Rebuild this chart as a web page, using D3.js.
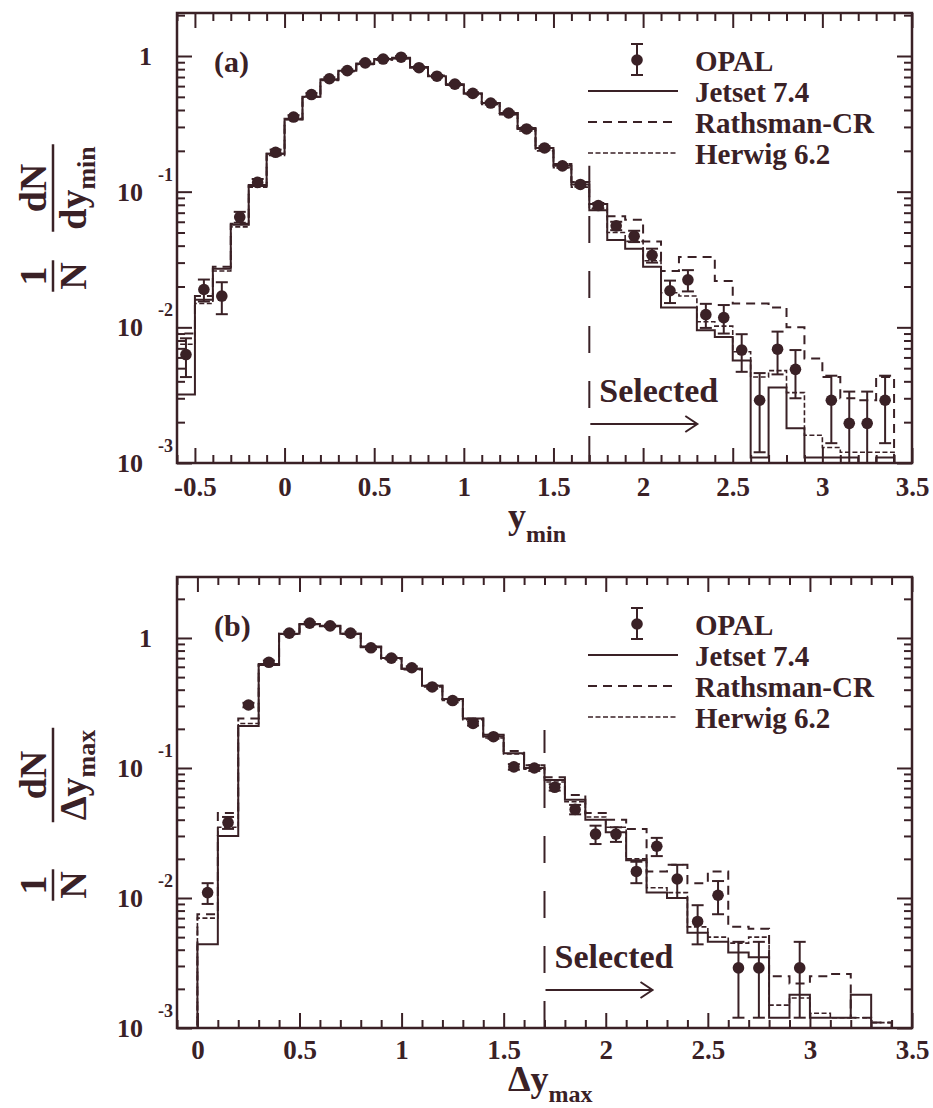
<!DOCTYPE html>
<html>
<head>
<meta charset="utf-8">
<script src="https://cdn.jsdelivr.net/npm/d3@7"></script>
<style>
  body { margin: 0; background: #fff; }
  text { font-family: "Liberation Serif", "Times New Roman", serif; font-weight: bold; fill: #3a2126; }
</style>
</head>
<body>
<svg id="chart" width="933" height="1108"></svg>
<script>
const INK = '#3a2126';
const LEFT = 177, RIGHT = 912;
const BIN = 0.1;

// ---- panel (a): y_min, bins of 0.1 from -0.6 ----
const binStartA = -0.6;
const opalA = [0.0063, 0.019, 0.017, 0.065, 0.117, 0.195, 0.355, 0.52, 0.68, 0.78,
  0.89, 0.95, 0.98, 0.82, 0.71, 0.62, 0.53, 0.45, 0.38, 0.29,
  0.21, 0.155, 0.113, 0.079, 0.056, 0.047, 0.034, 0.0186, 0.0224, 0.0124,
  0.0118, 0.0068, 0.0029, 0.0069, 0.0049, null, 0.0029, 0.00196, 0.00196, 0.0029];
const errA = [0.002, 0.0035, 0.0045, 0.006, 0.007, 0.009, 0.011, 0.013, 0.015, 0.016,
  0.017, 0.018, 0.018, 0.016, 0.015, 0.013, 0.012, 0.011, 0.009, 0.008,
  0.006, 0.005, 0.004, 0.0035, 0.004, 0.0045, 0.004, 0.0035, 0.004, 0.0025,
  0.0028, 0.0021, 0.0017, 0.0024, 0.0019, null, 0.0015, 0.0014, 0.0014, 0.0015];
const jetsetA = [0.0032, 0.016, 0.027, 0.057, 0.11, 0.19, 0.34, 0.50, 0.67, 0.78,
  0.88, 0.95, 0.97, 0.83, 0.71, 0.62, 0.53, 0.45, 0.38, 0.29,
  0.21, 0.155, 0.113, 0.073, 0.044, 0.038, 0.028, 0.014, 0.014, 0.0095,
  0.0085, 0.0057, 0.0011, 0.0036, 0.0018, 0.0011, 0.0011, 0.0011, 0, 0.0011];
const rathsmanA = [0.009, 0.017, 0.028, 0.058, 0.112, 0.19, 0.345, 0.51, 0.67, 0.78,
  0.87, 0.94, 0.96, 0.82, 0.71, 0.62, 0.53, 0.45, 0.38, 0.295,
  0.215, 0.16, 0.118, 0.081, 0.066, 0.062, 0.043, 0.026, 0.033, 0.033,
  0.022, 0.015, 0.015, 0.014, 0.01, 0.0059, 0.0043, 0.003, 0.0029, 0.0043];
const herwigA = [0.0075, 0.015, 0.026, 0.055, 0.108, 0.185, 0.34, 0.50, 0.66, 0.77,
  0.87, 0.94, 0.96, 0.83, 0.72, 0.61, 0.52, 0.44, 0.37, 0.28,
  0.2, 0.15, 0.108, 0.075, 0.05, 0.043, 0.031, 0.018, 0.017, 0.011,
  0.0102, 0.0066, 0.0043, 0.0048, 0.0033, 0.0016, 0.0013, 0.0012, 0.0012, 0.0012];
const xTicksA = [-0.5, 0, 0.5, 1, 1.5, 2, 2.5, 3, 3.5];

// ---- panel (b): delta y_max, bins of 0.1 from 0 ----
const binStartB = 0;
const opalB = [0.011, 0.038, 0.305, 0.65, 1.09, 1.30, 1.24, 1.09, 0.84, 0.70,
  0.59, 0.42, 0.33, 0.22, 0.174, 0.102, 0.10, 0.071, 0.048, 0.031,
  0.031, 0.016, 0.025, 0.014, 0.0066, 0.0105, 0.0029, 0.0029, null, 0.0029,
  null, null, null, null];
const errB = [0.002, 0.004, 0.012, 0.02, 0.025, 0.028, 0.027, 0.025, 0.02, 0.017,
  0.015, 0.012, 0.01, 0.008, 0.006, 0.005, 0.005, 0.004, 0.004, 0.005,
  0.004, 0.003, 0.004, 0.004, 0.0022, 0.003, 0.0017, 0.0017, null, 0.0017,
  null, null, null, null];
const jetsetB = [0.0044, 0.03, 0.21, 0.62, 1.08, 1.28, 1.24, 1.08, 0.85, 0.70,
  0.58, 0.43, 0.34, 0.24, 0.175, 0.13, 0.1, 0.081, 0.057, 0.040,
  0.032, 0.0195, 0.011, 0.010, 0.0054, 0.0046, 0.0038, 0.0035, 0.0012, 0.0018,
  0.0012, 0.0012, 0.0018, 0];
const rathsmanB = [0.0075, 0.045, 0.24, 0.63, 1.08, 1.27, 1.23, 1.08, 0.86, 0.70,
  0.58, 0.43, 0.34, 0.24, 0.18, 0.135, 0.105, 0.085, 0.062, 0.045,
  0.04, 0.034, 0.016, 0.018, 0.013, 0.016, 0.006, 0.0058, 0.0025, 0.0022,
  0.0025, 0.0026, 0.0012, 0.0011];
const herwigB = [0.007, 0.035, 0.22, 0.62, 1.07, 1.27, 1.24, 1.07, 0.85, 0.69,
  0.57, 0.42, 0.33, 0.235, 0.17, 0.128, 0.098, 0.078, 0.055, 0.042,
  0.035, 0.02, 0.012, 0.011, 0.006, 0.005, 0.0045, 0.005, 0.0015, 0.0017,
  0.0013, 0.0012, 0.0012, 0.0011];
const xTicksB = [0, 0.5, 1, 1.5, 2, 2.5, 3, 3.5];

const yMajors = [1e-3, 1e-2, 1e-1, 1];
const yLabels = [['10', '-3'], ['10', '-2'], ['10', '-1'], ['1', '']];
const legendNames = ['OPAL', 'Jetset 7.4', 'Rathsman-CR', 'Herwig 6.2'];

const MODELS = [
  {key: 'jetset', dash: null, width: 2},
  {key: 'rathsman', dash: '9,6', width: 2},
  {key: 'herwig', dash: '5,2.5', width: 1.6}
];

const svg = d3.select('#chart');

function drawPanel(p) {
  const x = d3.scaleLinear().domain(p.xDomain).range([LEFT, RIGHT]);
  const y = d3.scaleLog().domain(p.yDomain).range([p.bottom, p.top]);
  const floor = p.yDomain[0] * 0.8;

  svg.append('clipPath').attr('id', 'clip-' + p.id)
    .append('rect')
    .attr('x', LEFT).attr('y', p.top)
    .attr('width', RIGHT - LEFT).attr('height', p.bottom - p.top);

  const plot = svg.append('g').attr('clip-path', `url(#clip-${p.id})`);
  const n = p.opal.length;
  const edges = d3.range(n + 1).map(i => +(p.binStart + i * BIN).toFixed(2));

  const stepLine = d3.line()
    .x(d => x(d[0]))
    .y(d => y(Math.max(d[1], floor)));

  function stepPoints(vals) {
    const pts = [[edges[0], floor]];
    vals.forEach((v, i) => {
      pts.push([edges[i], v || floor], [edges[i + 1], v || floor]);
    });
    pts.push([edges[vals.length], floor]);
    return pts;
  }

  MODELS.forEach(m => {
    plot.append('path')
      .attr('d', stepLine(stepPoints(p[m.key])))
      .attr('fill', 'none')
      .attr('stroke', INK)
      .attr('stroke-width', m.width)
      .attr('stroke-dasharray', m.dash);
  });

  // OPAL points with error bars
  const pts = p.opal
    .map((v, i) => ({v, e: p.err[i], c: (edges[i] + edges[i + 1]) / 2}))
    .filter(d => d.v != null);
  const capW = 6;
  const bars = plot.append('g').attr('stroke', INK).attr('stroke-width', 2);
  pts.forEach(d => {
    const hi = y(d.v + d.e);
    const lo = y(Math.max(d.v - d.e, floor));
    const cx = x(d.c);
    bars.append('line').attr('x1', cx).attr('x2', cx).attr('y1', hi).attr('y2', lo);
    bars.append('line').attr('x1', cx - capW).attr('x2', cx + capW).attr('y1', hi).attr('y2', hi);
    if (d.v - d.e > p.yDomain[0]) {
      bars.append('line').attr('x1', cx - capW).attr('x2', cx + capW).attr('y1', lo).attr('y2', lo);
    }
  });
  plot.append('g').selectAll('circle')
    .data(pts)
    .join('circle')
    .attr('cx', d => x(d.c))
    .attr('cy', d => y(d.v))
    .attr('r', 5.8)
    .attr('fill', INK);

  // selection cut
  const cutX = x(1.7);
  svg.append('line')
    .attr('x1', cutX).attr('x2', cutX)
    .attr('y1', p.bottom).attr('y2', y(p.cutTop))
    .attr('stroke', INK).attr('stroke-width', 2)
    .attr('stroke-dasharray', '27,28');
  svg.append('text')
    .attr('x', cutX + 10).attr('y', p.selY)
    .attr('font-size', 34)
    .text('Selected');
  const ay = p.selY + 22;
  svg.append('path')
    .attr('d', `M${cutX + 1},${ay}H${cutX + 108}M${cutX + 96},${ay - 8}L${cutX + 108},${ay}L${cutX + 96},${ay + 8}`)
    .attr('fill', 'none').attr('stroke', INK).attr('stroke-width', 2);

  // axes
  const xMinor = d3.range(Math.round(p.xDomain[0] * 10), Math.round(p.xDomain[1] * 10) + 1)
    .map(k => k / 10).filter(v => !p.xTicks.includes(v));
  const yMinor = yMajors.flatMap(d => d3.range(2, 10).map(k => k * d))
    .filter(v => v < p.yDomain[1]);

  function styleAxis(g) {
    g.select('.domain').remove();
    g.style('color', INK);
    g.selectAll('line').attr('stroke-width', 2);
  }

  svg.append('g').attr('transform', `translate(0,${p.bottom})`)
    .call(d3.axisBottom(x).tickValues(p.xTicks).tickSize(-15).tickPadding(p.labelPad)
      .tickFormat(d => String(d)))
    .call(styleAxis)
    .call(g => g.selectAll('text')
      .attr('font-size', 27)
      .attr('font-family', '"Liberation Serif", serif')
      .attr('font-weight', 'bold'));
  svg.append('g').attr('transform', `translate(0,${p.bottom})`)
    .call(d3.axisBottom(x).tickValues(xMinor).tickSize(-8).tickFormat(''))
    .call(styleAxis);
  svg.append('g').attr('transform', `translate(0,${p.top})`)
    .call(d3.axisTop(x).tickValues(p.xTicks).tickSize(-15).tickFormat(''))
    .call(styleAxis);
  svg.append('g').attr('transform', `translate(0,${p.top})`)
    .call(d3.axisTop(x).tickValues(xMinor).tickSize(-8).tickFormat(''))
    .call(styleAxis);
  [[LEFT, d3.axisLeft], [RIGHT, d3.axisRight]].forEach(([pos, axis]) => {
    svg.append('g').attr('transform', `translate(${pos},0)`)
      .call(axis(y).tickValues(yMajors).tickSize(-15).tickFormat(''))
      .call(styleAxis);
    svg.append('g').attr('transform', `translate(${pos},0)`)
      .call(axis(y).tickValues(yMinor).tickSize(-8).tickFormat(''))
      .call(styleAxis);
  });

  // y tick labels as 10^n
  yMajors.forEach((v, i) => {
    const ty = y(v);
    const [base, exp] = yLabels[i];
    if (exp) {
      svg.append('text').attr('x', 143).attr('y', ty + 9)
        .attr('text-anchor', 'end').attr('font-size', 26).text(base);
      svg.append('text').attr('x', 173).attr('y', ty - 11)
        .attr('text-anchor', 'end').attr('font-size', 18).text(exp);
    } else {
      svg.append('text').attr('x', 152).attr('y', ty + 9)
        .attr('text-anchor', 'end').attr('font-size', 26).text(base);
    }
  });

  // frame
  svg.append('rect')
    .attr('x', LEFT).attr('y', p.top)
    .attr('width', RIGHT - LEFT).attr('height', p.bottom - p.top)
    .attr('fill', 'none').attr('stroke', INK).attr('stroke-width', 2.5);

  // panel tag
  svg.append('text').attr('x', 214).attr('y', p.top + 59)
    .attr('font-size', 30).text(p.tag);

  // legend
  const lg = svg.append('g').attr('transform', `translate(0,${p.top})`);
  lg.append('line').attr('x1', 637).attr('x2', 637).attr('y1', 31).attr('y2', 62)
    .attr('stroke', INK).attr('stroke-width', 2);
  [31, 62].forEach(cy => lg.append('line')
    .attr('x1', 631).attr('x2', 643).attr('y1', cy).attr('y2', cy)
    .attr('stroke', INK).attr('stroke-width', 2));
  lg.append('circle').attr('cx', 637).attr('cy', 47).attr('r', 5.8).attr('fill', INK);
  MODELS.forEach((m, i) => {
    lg.append('line')
      .attr('x1', 588).attr('x2', 678)
      .attr('y1', 78 + i * 31).attr('y2', 78 + i * 31)
      .attr('stroke', INK).attr('stroke-width', m.width)
      .attr('stroke-dasharray', m.dash);
  });
  legendNames.forEach((name, i) => {
    lg.append('text').attr('x', 695).attr('y', 58 + i * 31)
      .attr('font-size', 29).text(name);
  });

  // x axis title
  const xt = svg.append('text').attr('x', p.xTitleX).attr('y', p.xTitleY).attr('font-size', 36);
  xt.append('tspan').text(p.xSym);
  xt.append('tspan').attr('dy', p.subDy).attr('font-size', 24).text(p.sub);

  // y axis title: (1/N)(dN/d...)
  const yt = svg.append('g').attr('transform', `translate(53,${p.fracY}) rotate(-90)`);
  function fraction(cx, numer, denomParts) {
    const num = yt.append('text').attr('x', cx).attr('y', -7)
      .attr('text-anchor', 'middle').attr('font-size', 38).text(numer);
    const den = yt.append('text').attr('x', cx).attr('y', 33)
      .attr('text-anchor', 'middle').attr('font-size', 38);
    den.append('tspan').text(denomParts[0]);
    if (denomParts[1]) {
      den.append('tspan').attr('dy', 9).attr('font-size', 26).text(denomParts[1]);
    }
    const w = Math.max(num.node().getComputedTextLength(), den.node().getComputedTextLength()) + 4;
    yt.append('line').attr('x1', cx - w / 2).attr('x2', cx + w / 2)
      .attr('y1', 0).attr('y2', 0)
      .attr('stroke', INK).attr('stroke-width', 2.5);
  }
  fraction(p.frac1, '1', ['N']);
  fraction(p.frac2, 'dN', [p.ySym, p.sub]);
}

drawPanel({
  id: 'a', tag: '(a)',
  top: 13, bottom: 463,
  xDomain: [-0.6, 3.5], yDomain: [1e-3, Math.pow(10, 0.317)],
  binStart: binStartA, xTicks: xTicksA, labelPad: 14,
  opal: opalA, err: errA, jetset: jetsetA, rathsman: rathsmanA, herwig: herwigA,
  cutTop: 0.155, selY: 402,
  xSym: 'y', sub: 'min', xTitleX: 508, xTitleY: 528, subDy: 14,
  ySym: 'dy', fracY: 210, frac1: -66, frac2: 22
});

drawPanel({
  id: 'b', tag: '(b)',
  top: 577, bottom: 1028,
  xDomain: [-0.1, 3.5], yDomain: [1e-3, Math.pow(10, 0.469)],
  binStart: binStartB, xTicks: xTicksB, labelPad: 12,
  opal: opalB, err: errB, jetset: jetsetB, rathsman: rathsmanB, herwig: herwigB,
  cutTop: 0.196, selY: 968,
  xSym: '\u0394y', sub: 'max', xTitleX: 508, xTitleY: 1091, subDy: 11,
  ySym: '\u0394y', fracY: 810, frac1: -75, frac2: 35
});
</script>
</body>
</html>
